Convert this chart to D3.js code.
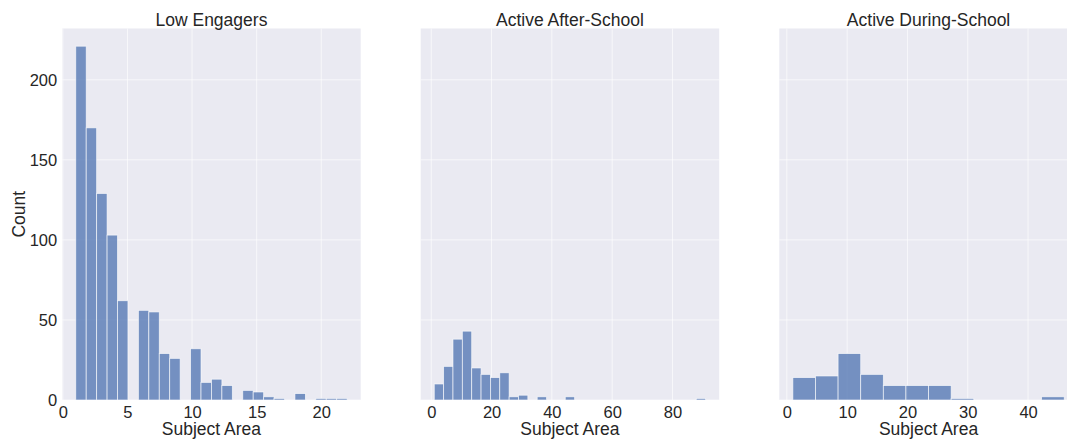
<!DOCTYPE html>
<html>
<head>
<meta charset="utf-8">
<script src="https://cdn.jsdelivr.net/npm/d3@7"></script>
<style>
  html, body { margin: 0; padding: 0; background: #ffffff; }
  svg { display: block; }
  text { font-family: "Liberation Sans", Arial, sans-serif; fill: #262626; }
</style>
</head>
<body>
<svg id="chart" width="1067" height="443"></svg>
<script>
// Panel titles
const panelTitles = ["Low Engagers", "Active After-School", "Active During-School"];

// Histogram ranges [min, max] of "Subject Area" per group
const lowRange = [1, 22];
const afterRange = [1, 91];
const duringRange = [1, 46];

// Bin counts per group (equal-width bins spanning each range)
const lowCounts = [221, 170, 129, 103, 62, 0, 56, 55, 29, 26, 0, 32, 11, 13, 9, 0, 6, 5, 2, 1, 0, 4, 0, 1, 1, 1];
const afterCounts = [10, 21, 38, 43, 20, 16, 14, 17, 2, 3, 0, 2, 0, 0, 2, 0, 0, 0, 0, 0, 0, 0, 0, 0, 0, 0, 0, 0, 1];
const duringCounts = [14, 15, 29, 16, 9, 9, 9, 1, 0, 0, 0, 2];

// Tick labels
const lowXTicks = [0, 5, 10, 15, 20];
const afterXTicks = [0, 20, 40, 60, 80];
const duringXTicks = [0, 10, 20, 30, 40];
const yTicks = [0, 50, 100, 150, 200];

const xLabel = "Subject Area";
const yLabel = "Count";

const panels = [
  { title: panelTitles[0], range: lowRange, counts: lowCounts, ticks: lowXTicks },
  { title: panelTitles[1], range: afterRange, counts: afterCounts, ticks: afterXTicks },
  { title: panelTitles[2], range: duringRange, counts: duringCounts, ticks: duringXTicks }
];

// Layout
const panelLefts = [62.2, 420.7, 779.3];
const panelWidth = 298.5;
const plotTop = 28.5, plotBottom = 400;
const bg = "#eaeaf2";
const barColor = "#4c72b0";
const font = "'Liberation Sans', Arial, sans-serif";

const svg = d3.select("#chart");

// Shared y scale (5% headroom above the tallest bar)
const yMax = d3.max(panels, p => d3.max(p.counts)) * 1.05;
const y = d3.scaleLinear().domain([0, yMax]).range([plotBottom, plotTop]);

panels.forEach((p, i) => {
  const left = panelLefts[i];
  const [lo, hi] = p.range;
  const pad = (hi - lo) * 0.05;
  const x = d3.scaleLinear().domain([lo - pad, hi + pad]).range([left, left + panelWidth]);
  const binW = (hi - lo) / p.counts.length;
  const bins = p.counts.map((c, k) => ({ x0: lo + k * binW, x1: lo + (k + 1) * binW, count: c }));

  const g = svg.append("g");

  // Background
  g.append("rect")
    .attr("x", left).attr("y", plotTop)
    .attr("width", panelWidth).attr("height", plotBottom - plotTop)
    .attr("fill", bg);

  // Grid lines
  g.selectAll(".gx").data(p.ticks).join("line")
    .attr("x1", d => x(d)).attr("x2", d => x(d))
    .attr("y1", plotTop).attr("y2", plotBottom)
    .attr("stroke", "#ffffff").attr("stroke-width", 0.9).attr("stroke-opacity", 0.7);
  g.selectAll(".gy").data(yTicks).join("line")
    .attr("x1", left).attr("x2", left + panelWidth)
    .attr("y1", d => y(d)).attr("y2", d => y(d))
    .attr("stroke", "#ffffff").attr("stroke-width", 0.9).attr("stroke-opacity", 0.7);

  // Bars
  g.selectAll(".bar").data(bins.filter(b => b.count > 0)).join("rect")
    .attr("x", d => x(d.x0))
    .attr("width", d => x(d.x1) - x(d.x0))
    .attr("y", d => y(d.count))
    .attr("height", d => y(0) - y(d.count))
    .attr("fill", barColor)
    .attr("fill-opacity", 0.75)
    .attr("stroke", "#ffffff")
    .attr("stroke-opacity", 0.75)
    .attr("stroke-width", 0.8);

  // X axis (tick labels only)
  const xAxis = d3.axisBottom(x).tickValues(p.ticks).tickSize(0).tickPadding(6).tickFormat(d3.format("d"));
  const xg = g.append("g").attr("transform", `translate(0,${plotBottom})`).call(xAxis);
  xg.select(".domain").remove();
  xg.selectAll("text").attr("font-size", "16.5px").attr("fill", "#262626").attr("font-family", font);

  // Y axis labels on the first panel only
  if (i === 0) {
    const yAxis = d3.axisLeft(y).tickValues(yTicks).tickSize(0).tickPadding(5).tickFormat(d3.format("d"));
    const yg = g.append("g").attr("transform", `translate(${left},0)`).call(yAxis);
    yg.select(".domain").remove();
    yg.selectAll("text").attr("font-size", "16.5px").attr("fill", "#262626").attr("font-family", font);

    g.append("text")
      .attr("transform", `translate(25,${(plotTop + plotBottom) / 2}) rotate(-90)`)
      .attr("text-anchor", "middle")
      .attr("font-size", "17.5px")
      .text(yLabel);
  }

  // Title
  g.append("text")
    .attr("x", left + panelWidth / 2).attr("y", 25.5)
    .attr("text-anchor", "middle")
    .attr("font-size", "17.5px")
    .text(p.title);

  // X label
  g.append("text")
    .attr("x", left + panelWidth / 2).attr("y", 435)
    .attr("text-anchor", "middle")
    .attr("font-size", "17.5px")
    .text(xLabel);
});
</script>
</body>
</html>
